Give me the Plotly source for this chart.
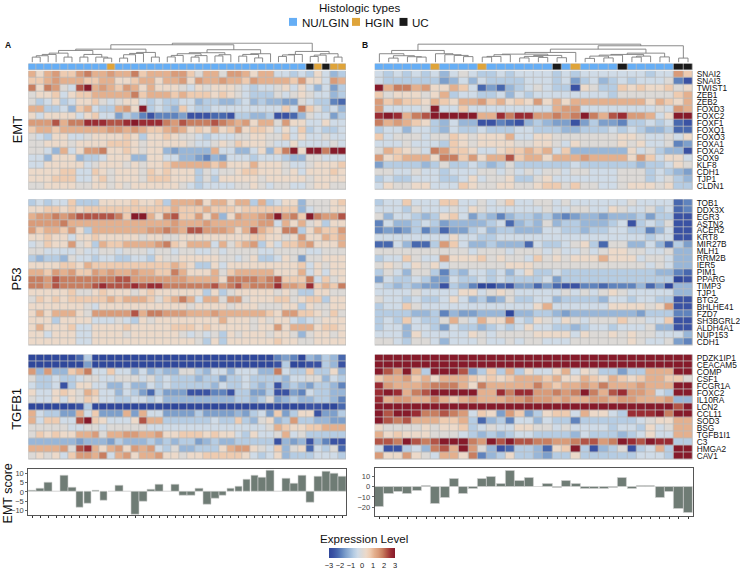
import numpy as np
import plotly.graph_objects as go

W, H = 740, 569
FONT = "Liberation Sans"
LEVEL = 3 / 8  # one step of the colour ramp, in expression units

genes_emt = ["SNAI2","SNAI3","TWIST1","ZEB1","ZEB2","FOXD3","FOXC2","FOXF1","FOXQ1","FOXO3","FOXA1","FOXA2","SOX9","KLF8","CDH1","TJP1","CLDN1"]
genes_p53 = ["TOB1","DDX3X","EGR3","ASTN2","ACER2","KRT8","MIR27B","MLH1","RRM2B","IER5","PIM1","PPARG","TIMP3","TJP1","BTG2","BHLHE41","FZD7","SH3BGRL2","ALDH4A1","NUP153","CDH1"]
genes_tgf = ["PDZK1IP1","CEACAM5","COMP","CSF1","FCGR1A","FOXC2","IL10RA","LCN2","CCL11","SOD3","BSG","TGFB1I1","C3","HMGA2","CAV1"]

types_a = [0]*10 + [1] + [0]*24 + [2,1,2,1,1]
types_b = [0]*6 + [1] + [0]*4 + [1] + [0]*7 + [2,0,1] + [0]*4 + [2] + [0]*5 + [2,2]

score_a = [0.7,2,4.8,0.2,9,2.2,-8.3,-6,0.7,-4.5,0,3.3,0.2,-12,-5,1.3,3.8,0.2,4,-2,-2,1.7,-6.8,-3.5,-1.7,1.6,2.7,6.5,9,8,11.5,0.1,7.3,4.5,8.8,-5.8,8.2,11,9.7,8.3]
score_b = [-19.5,-7,-4.5,-6.5,-3.5,1.2,-17,-10.5,8.3,-7.3,-1.8,8,9.5,3.5,16.3,6.2,9,0.4,3.2,-0.6,6,2.7,-1.8,-1.8,-1.8,-0.6,9.3,-1.8,0.8,1.3,-10.5,-4.8,-22,-26]

emt_a = [
[3,1,3,4,2,2,4,5,3,3,4,3,3,5,2,3,3,3,4,4,2,0,3,3,0,4,4,3,1,3,3,-1,-1,-2,-1,-2,1,-1,-3,-2],
[2,2,3,4,3,3,3,2,2,3,3,1,1,2,3,3,1,3,3,4,1,4,3,3,4,3,3,2,4,3,3,3,3,2,4,1,1,-1,4,3],
[5,1,5,4,0,-1,6,8,3,4,3,2,4,3,1,3,1,1,1,0,-1,1,0,1,1,1,0,-1,-2,-1,-1,0,1,-1,1,-1,-3,-1,-4,-2],
[0,1,1,2,-1,1,2,2,3,3,3,3,3,5,2,3,3,3,2,3,2,2,2,1,2,1,0,-1,-2,-2,-2,0,-1,0,1,0,-1,-1,-3,-2],
[0,-2,-1,1,-2,-1,1,1,2,0,-1,0,1,1,-1,-2,-1,-2,-2,-1,-1,-3,-2,-2,-3,-3,-2,-1,-3,-2,-3,-3,-4,-4,0,-1,-2,-2,-5,-6],
[3,3,-2,-2,-1,-3,2,3,-1,-2,-2,3,4,1,8,-2,-1,-2,-3,2,-1,-2,-2,-1,-1,-1,-1,-1,-1,-1,-1,-1,2,-1,5,2,0,-2,-1,-3],
[1,-1,1,1,1,1,-1,1,2,-1,-1,-4,-2,-3,-5,-7,-5,-5,-5,-4,-7,-7,-7,-6,-6,-7,-2,-2,-3,-3,-2,-7,-7,-6,-3,0,-1,-1,-4,-2],
[4,4,4,6,3,5,5,7,7,7,6,6,7,8,7,7,7,5,4,6,5,5,5,6,5,4,3,4,1,3,3,0,4,1,1,-1,-1,1,-1,-1],
[2,3,3,2,3,3,3,3,3,3,4,4,3,4,3,2,2,3,4,3,1,2,1,3,1,2,4,1,2,2,1,-1,1,-1,2,-2,-1,-2,-2,-1],
[0,-1,-2,1,1,-1,-1,0,1,1,1,1,2,1,-2,1,1,2,1,0,0,-1,-2,-1,-1,-1,0,0,1,1,0,0,2,-1,1,-1,-1,0,-1,-1],
[0,0,1,1,1,0,1,1,1,1,2,2,2,1,0,1,1,1,1,1,0,-1,-1,0,1,0,2,1,1,1,0,-1,-1,1,-1,-1,-1,-1,0,-1],
[0,0,-1,-3,3,-1,1,4,4,5,1,1,2,1,0,1,1,-3,-4,-3,-3,-3,-3,3,-1,-1,-3,-3,-1,1,-3,2,5,8,1,8,8,5,8,8],
[-1,-1,-3,1,1,1,-3,-2,-2,-1,1,1,1,-3,-3,1,1,-1,-1,-3,-3,-4,-5,-3,-4,-1,-1,-1,-2,-1,-1,-1,-2,-3,-3,0,0,-1,-1,-1],
[-1,-1,1,1,1,1,1,-1,0,1,1,1,0,1,0,1,1,2,3,3,3,3,3,2,3,1,1,1,3,1,1,1,0,-1,-1,0,1,1,1,2],
[1,1,1,1,2,2,-1,-1,2,1,0,1,1,1,0,2,1,2,1,1,1,-2,0,-1,0,0,1,2,2,1,1,1,0,1,-1,1,1,1,2,1],
[1,1,1,2,2,2,-1,-1,1,2,0,1,1,1,0,2,2,2,1,1,1,-2,0,-2,1,1,1,1,1,0,1,1,1,1,1,0,1,1,1,1],
[0,0,1,1,1,1,0,0,1,1,0,1,0,1,1,1,1,1,1,0,-1,-2,-1,-1,-1,-1,0,0,1,0,-1,0,0,-1,-1,0,1,1,0,0],
]

p53_a = [
[-2,-1,-2,-1,-1,2,-2,-2,-2,1,1,1,1,2,1,1,2,-2,3,3,3,4,1,3,3,1,3,3,-2,3,-2,-1,1,1,-3,0,0,0,1,2],
[1,1,2,2,1,2,1,2,2,2,2,2,2,2,2,2,2,2,3,2,2,2,3,2,2,2,1,2,2,2,2,2,2,2,-3,-1,0,0,1,1],
[3,4,4,5,4,5,6,6,6,6,6,5,2,8,8,3,1,5,6,2,2,4,1,4,-3,1,4,3,3,4,5,8,4,5,2,8,5,4,4,6],
[4,4,4,4,5,3,3,3,3,3,3,3,3,3,3,3,3,3,4,3,3,3,4,3,3,3,3,3,3,4,4,-1,3,1,3,0,1,-2,1,1],
[4,2,3,3,2,4,1,-2,3,3,3,3,3,3,3,4,4,5,4,3,6,6,4,4,4,3,1,3,6,3,2,1,5,5,-2,1,3,2,2,4],
[1,1,2,1,1,-1,1,1,2,1,1,1,1,1,0,1,1,0,0,1,1,1,1,1,1,1,1,1,2,2,1,1,0,1,4,1,1,3,2,3],
[-1,0,2,1,1,4,0,1,-2,3,2,2,3,3,3,3,4,5,2,1,3,3,3,-1,3,0,2,3,4,-2,1,-1,2,2,3,4,1,1,1,3],
[0,0,-1,-1,-1,-1,0,-1,-1,0,0,-1,0,0,0,-1,0,0,-1,0,0,-1,-1,0,-1,0,0,0,0,-1,-1,0,0,0,0,-1,-1,0,0,0],
[-2,-3,-2,-2,-3,0,-1,-1,-2,-1,-1,-2,-2,-1,-1,-2,1,0,0,1,1,1,1,1,0,0,-1,0,1,-2,-2,-1,1,0,-4,0,0,1,1,1],
[1,1,1,1,2,2,1,3,2,2,2,2,2,2,2,2,2,2,3,2,1,-2,-2,1,-1,1,1,1,1,1,1,1,1,1,2,-1,1,0,1,1],
[3,3,2,4,3,4,2,2,4,3,4,3,3,4,3,3,2,2,5,3,1,1,1,3,0,2,3,3,3,3,3,1,1,1,3,-1,1,-1,1,1],
[5,5,4,6,5,5,5,5,5,5,5,6,6,4,4,4,4,4,4,4,3,3,3,3,1,5,5,5,5,4,5,6,2,2,2,5,-1,2,0,1],
[5,5,4,6,5,5,5,5,6,7,6,6,6,7,6,7,7,5,5,5,5,5,5,6,4,5,6,4,5,5,5,7,4,4,3,7,2,3,2,5],
[1,1,1,1,1,2,0,0,1,2,1,1,1,0,1,2,1,1,1,1,1,1,-2,1,-2,0,1,1,1,1,1,0,1,0,-2,-2,1,1,0,0],
[0,2,1,2,1,2,2,2,2,2,3,2,3,3,3,2,0,2,3,5,3,-1,3,3,0,4,4,0,1,1,1,2,2,0,1,2,2,-2,1,1],
[1,1,1,1,1,1,1,0,-1,1,1,1,1,1,1,1,1,1,1,1,0,1,1,1,1,0,1,1,1,0,0,0,1,1,-2,1,0,0,1,1],
[1,3,1,3,3,3,1,0,4,4,4,4,4,6,3,5,5,4,4,4,3,3,3,4,3,3,3,3,3,3,2,1,4,4,2,2,1,0,2,0],
[1,1,1,-2,1,1,1,1,-1,-1,-1,0,-1,-2,1,0,1,1,1,1,1,1,1,1,3,1,1,1,0,1,0,1,1,-1,-2,-1,0,1,1,1],
[1,3,1,1,1,2,-1,-1,1,1,1,1,2,1,1,1,1,1,2,2,2,1,2,1,1,1,1,1,0,1,1,4,1,3,3,3,1,2,2,1],
[1,1,-1,1,1,1,-1,-1,1,1,1,1,0,1,1,1,1,1,1,0,-1,0,-1,0,-2,1,0,1,1,1,0,1,1,0,-3,0,1,1,0,1],
[1,1,1,1,1,1,-1,-1,1,1,1,1,1,1,1,1,1,1,1,1,1,0,-2,1,-2,1,1,1,1,1,1,2,1,1,0,0,1,1,1,1],
]

tgf_a = [
[-8,-8,-8,-8,-8,-8,-6,-2,-8,-8,-8,-8,-8,-8,-8,-8,-8,-8,-8,-8,-8,-8,-8,-8,-8,-8,-8,-8,-8,-8,-8,-5,-4,-5,-8,-3,-4,-2,-3,-6],
[-8,-8,-8,-8,-8,-8,-8,-4,-8,-8,-8,-8,-8,-8,-8,-8,-8,-8,-8,-8,-8,-8,-8,-8,-8,-8,-8,-8,-8,-8,-8,-7,-2,-8,-8,-7,-7,-2,-3,-7],
[4,-3,4,-3,-3,2,3,5,-1,-1,2,-1,-1,-3,-1,-3,-2,-3,-3,0,0,-2,-3,-1,-1,-3,-1,-1,-1,-3,-3,5,-1,-2,-2,2,-2,-2,1,-3],
[0,-2,-2,-1,-2,-2,-1,0,0,-1,-1,0,0,0,-1,0,-2,-1,-2,-2,-2,-3,-2,-2,-4,-2,-2,-1,-2,-2,-2,-2,-3,-1,-1,0,0,-3,-1,-2],
[-1,-2,-2,-1,-7,-2,1,1,-1,-1,-3,-3,-1,-3,-3,-1,-2,-1,-2,-2,-2,-2,-2,-3,-1,-2,-2,-1,-2,-3,-2,-7,-3,-2,-3,-4,-2,-2,-3,-5],
[1,-1,-1,1,2,1,0,3,2,-1,-1,-3,-1,-2,-4,-6,-2,-4,-4,-4,-7,-7,-7,-5,-5,-7,-2,-2,-4,-4,-2,-7,-7,-4,-5,-1,-2,-2,-3,-3],
[0,-1,-1,1,-1,1,0,2,1,-1,-1,-2,-2,-1,-1,-2,-1,-3,-3,-3,-3,-3,-3,-3,-3,-3,-2,-2,-3,-2,0,-4,-3,-2,-3,-3,-2,-2,-3,-5],
[-8,-8,-8,-8,-8,-8,-7,-2,-8,-8,-8,-8,-8,-8,-8,-8,-8,-8,-8,-8,-8,-8,-8,-8,-8,-8,-8,-8,-8,-8,-8,-8,-8,-8,-8,-7,-7,-8,-8,-6],
[3,-1,-2,-2,-4,-4,3,-1,2,-4,-4,-4,3,-4,3,-1,-1,-4,-4,-4,-4,-2,-4,-4,-4,-4,-3,-4,-2,-1,-4,2,-4,-2,1,1,-7,-4,-4,-2],
[3,-1,2,2,-1,-1,6,8,2,1,-1,-1,-1,1,6,3,3,-2,-2,-2,-2,-2,-2,-1,-2,-2,2,-2,-3,0,1,-3,-2,4,-2,-2,-3,-3,-4,-4],
[0,0,0,0,0,-1,-1,0,0,-1,0,0,0,0,0,-1,-1,-1,-1,-1,-1,-1,-1,-1,-1,-1,-1,-1,-1,-1,0,3,2,1,1,2,2,3,3,3],
[0,2,1,2,1,1,3,3,4,0,3,3,4,4,3,3,4,1,1,2,2,2,1,2,1,1,-1,-2,1,-1,-1,0,3,-1,0,-2,-2,-2,-2,-2],
[-3,-3,-3,-3,-3,-3,-4,-3,-3,-3,-4,-2,-3,-3,-3,-2,-3,-2,-3,-2,-2,-4,-3,-2,-3,-3,-2,-2,-2,-2,-2,-7,-3,-4,-3,-7,-3,-5,-7,-7],
[3,3,3,3,4,0,6,7,3,1,3,4,1,4,3,4,-1,-2,0,-3,-3,-2,-2,-2,1,3,4,4,1,0,-1,2,-3,0,1,-6,-1,-2,0,-6],
[0,1,0,1,-1,2,4,4,3,5,-1,3,4,1,3,3,4,1,1,0,1,1,2,2,2,2,2,1,-1,-2,-1,1,-3,-2,-2,-2,-1,-1,-1,-2],
]

emt_b = [
[-1,-2,-1,-2,-1,-2,-1,-3,-1,0,-1,-2,-2,-1,-2,-1,-1,-1,-1,-2,-1,-2,-1,-1,-1,-1,-1,-1,-1,-2,-1,-1,4,2],
[-1,-2,-2,-2,-2,-2,-2,-4,-3,-1,-3,-1,-2,-2,-2,-2,-1,-1,-1,-2,-1,-4,-2,-1,-3,-2,-1,-2,-1,-1,-1,0,-5,-7],
[8,3,5,5,3,4,1,1,3,2,-1,-6,-4,-6,-3,-2,-1,0,-1,-2,-2,-7,1,0,-2,-2,2,1,2,1,1,2,0,1],
[2,0,1,1,1,0,1,3,-2,-1,-1,-2,-2,-1,-3,-1,-2,-1,-1,-1,-1,-1,-1,-1,-1,-2,0,0,0,0,0,0,2,3],
[4,2,3,2,2,1,3,2,1,3,3,4,2,3,1,2,1,4,1,3,1,3,3,3,3,3,3,3,3,1,3,2,1,3],
[4,-1,-1,-1,-1,0,8,-1,-1,2,-1,-1,-1,-1,-1,-1,-1,-1,-1,3,4,4,-1,-1,-1,-1,-1,-1,-1,-1,0,-1,4,3],
[7,8,7,3,5,6,8,8,8,8,8,3,3,7,5,7,7,4,4,5,4,5,8,5,3,6,7,4,4,3,-1,1,8,8],
[5,3,4,3,2,1,-2,-3,-1,-3,-3,-7,-7,-5,-6,-7,-3,-2,-3,-4,-4,-7,-4,-2,-4,-4,-5,-2,-2,-1,-2,-1,-6,-7],
[-2,-1,-1,-3,-1,-1,-2,-3,-1,-2,-2,-1,-2,-2,-2,-1,-1,-2,-2,-2,-3,-3,-2,-2,-2,-1,-2,-1,-2,-3,-3,-2,-6,-6],
[2,-1,0,0,0,-1,0,0,2,1,0,1,1,1,3,-1,-1,1,1,0,0,0,0,0,0,0,1,1,0,-1,-1,0,-1,1],
[-1,-1,-1,0,-1,-1,-1,-2,2,1,0,1,1,1,1,0,0,1,1,0,-1,1,0,0,0,0,1,0,1,-1,-1,0,-5,-4],
[0,3,2,1,0,-1,5,4,2,2,1,-1,-1,1,2,2,3,2,3,-1,2,-3,-3,-3,-3,-3,-3,1,-1,0,-2,-3,-3,-7],
[4,1,2,3,3,3,1,5,5,2,4,1,3,3,6,2,3,3,1,3,3,3,4,3,3,3,3,1,4,2,-1,1,1,-1],
[-4,-2,-2,-2,-2,-3,-2,0,-2,-2,-1,-2,-3,-2,0,-2,-2,-2,-2,-2,-2,-1,-2,-2,-2,-2,-2,-2,-3,-2,-2,-1,1,0],
[0,0,-1,-1,0,-1,-1,-2,-1,-1,-1,0,0,-1,0,-1,0,-1,0,0,-1,0,0,-1,-1,-1,0,0,0,-2,-1,-2,-3,-4],
[-2,-1,-2,-2,-1,-1,-1,-2,-2,-1,1,-1,0,0,1,-2,-2,0,1,-1,-1,-1,-1,-1,-1,-1,0,0,0,-2,-1,0,-2,-3],
[-1,1,0,0,1,1,-1,-1,-1,2,1,0,0,1,1,0,0,1,2,2,0,2,0,0,-1,-1,0,1,1,1,0,1,-2,-2],
]

p53_b = [
[-2,-1,-1,2,-1,-1,-1,2,2,-1,-1,0,-1,0,2,-1,-1,0,0,-1,0,-1,-1,-1,-1,-1,-1,0,-1,-1,-1,-1,-6,-5],
[-1,-1,-1,-2,0,-1,-1,-1,0,-1,1,0,-1,-1,-1,-1,-1,-1,0,-1,-1,0,0,-1,-1,1,0,-1,-1,0,-2,-1,-6,-5],
[0,-3,-1,-1,-2,-3,-2,1,2,-1,-4,-2,-3,-5,-3,-2,-2,-3,-2,-4,-5,-4,-3,-3,-4,-3,-3,-3,-2,-4,-2,-2,-7,-7],
[-5,-1,-3,-3,-2,-1,-2,-4,-3,-3,-3,-3,-2,-1,-6,-3,-2,-3,0,-3,-2,-2,-3,-3,-3,-2,-1,-7,-2,-1,-2,0,-7,-7],
[-5,-4,-5,-4,-2,-5,-3,-6,-4,-4,-2,-1,-3,-2,-2,-3,-3,-3,-1,-1,-2,-2,-3,-2,-2,-1,-1,-2,-2,-5,-3,-1,-7,-7],
[-1,-1,-1,-1,-1,-1,-1,-1,1,-1,-1,-2,-2,-1,-1,-1,-1,-1,-1,-1,-1,-1,-1,-1,-1,-1,-1,-1,-1,-2,-1,-1,-7,-7],
[-6,-6,-1,-3,-6,-6,-2,4,2,-1,-3,-3,-2,-3,-3,-3,-6,-1,-2,-2,-1,0,1,-2,-6,0,0,-3,-3,-1,-3,-6,-2,-4],
[0,0,0,0,0,0,0,0,0,0,-1,0,0,0,-1,0,0,0,-1,0,-1,-1,0,-1,0,1,1,0,0,-1,-1,0,-3,-3],
[-2,-1,-1,2,0,-1,-1,4,1,1,1,2,0,1,0,0,-1,2,0,1,0,1,1,1,3,1,1,1,-1,0,0,-1,-3,-3],
[0,1,0,-1,1,0,1,-1,0,0,0,0,0,0,1,1,1,0,0,0,0,0,0,0,0,0,0,0,0,-1,0,-1,-3,-3],
[-2,0,-1,-3,0,0,-2,-5,-2,-3,-1,-1,-2,-1,-3,-1,1,-2,-2,-1,-2,-2,-2,-2,-2,-2,-2,-2,-2,-2,-3,-3,-5,-6],
[-4,-1,-2,-2,-1,-2,-4,-4,-1,-2,-2,-1,-2,-1,-2,-2,-2,-2,-1,-4,-2,-2,-2,-2,-2,-2,-2,-2,-2,-2,-2,-2,-8,-7],
[-1,-2,-3,-2,-3,-4,-4,-7,-2,-3,-5,-8,-8,-6,-7,-4,-4,-6,-4,-6,-7,-7,-5,-5,-6,-5,-5,-5,-3,-6,-4,-8,-3,-3],
[-1,-1,-1,-1,0,-1,-1,-1,-1,1,1,-1,0,1,0,-1,-1,-1,-1,-1,0,-1,0,-1,0,1,0,-1,-1,-1,-1,-1,-3,-3],
[0,-1,-1,-2,-1,-2,-2,-1,1,-1,-3,-2,-4,-3,0,-2,-2,-1,-1,-3,-2,-2,-2,-2,-3,-1,-1,-2,-1,-1,-2,-2,-7,-7],
[-2,-1,-1,2,0,-1,-1,-1,-1,-1,-1,-1,-1,-1,-1,-1,-1,1,3,-1,-1,-1,-1,-1,-1,1,1,1,1,0,1,4,-7,-7],
[-2,-2,-2,-2,-3,-3,-2,-5,-3,-4,-4,-3,-3,-3,-8,-3,-3,-2,-2,-3,-4,-3,-3,-3,-3,-3,-3,-3,-4,-2,-2,-2,-5,-5],
[-2,-1,-2,2,-1,-2,-2,0,3,0,-1,3,1,1,4,-1,-2,1,0,-1,1,0,-1,0,0,0,2,0,0,-1,-1,2,-7,-7],
[-2,-1,-1,-3,-1,-1,-2,-4,-1,-2,-2,-3,-2,-1,-2,-1,1,-1,-1,-2,-2,-3,-2,-1,-1,-2,-1,-1,-1,0,-3,-3,-7,-7],
[-1,-1,-1,-3,1,-1,-1,-1,-1,-1,1,0,-1,0,0,0,0,1,1,1,1,-1,1,0,0,1,0,1,0,0,-1,-1,-1,-3],
[0,0,-1,-2,0,0,-1,-3,-1,-1,-1,0,-1,-1,0,-1,0,0,-1,-1,-1,0,0,0,0,0,0,1,0,-1,-1,0,-4,-5],
]

tgf_b = [
[8,8,8,8,8,8,8,8,8,8,8,8,8,8,8,8,8,8,8,8,8,8,8,8,8,8,8,8,8,8,8,8,8,8],
[8,8,8,8,8,8,8,8,8,8,8,8,8,8,8,8,8,8,8,8,8,8,8,8,8,8,8,8,8,8,8,8,8,8],
[8,6,4,8,3,-2,8,8,8,6,-4,-2,2,-2,3,-2,1,-1,-1,1,3,-1,1,0,-2,-2,-4,-2,-2,3,3,3,8,8],
[2,3,3,4,2,3,1,3,3,3,2,1,2,1,2,3,3,3,2,3,1,1,3,2,1,3,2,1,2,3,3,2,2,0],
[7,4,3,3,3,4,5,5,5,3,1,5,3,3,3,3,3,5,3,2,3,3,4,3,5,3,3,3,4,3,3,3,8,8],
[7,8,7,3,5,6,8,8,8,8,8,3,3,7,5,7,7,4,4,5,4,5,8,5,3,6,7,4,4,3,-1,-2,8,8],
[7,3,4,4,3,3,5,3,2,3,4,3,3,3,4,4,5,4,4,3,4,3,3,4,4,3,4,4,3,3,3,4,-3,-3],
[8,8,8,8,8,8,8,8,8,8,8,8,8,8,8,8,8,8,8,8,8,8,8,8,8,8,8,8,8,8,8,8,6,8],
[8,6,8,8,7,5,5,6,5,4,-1,2,1,-4,4,2,-4,-2,1,2,2,-1,3,1,1,-1,-2,7,7,7,8,5,8,8],
[8,6,5,6,3,3,3,2,2,3,-2,-6,-3,-2,-5,-1,-1,-3,-1,-2,-2,-5,-2,-2,-2,-2,-2,-2,-1,0,1,1,3,3],
[1,0,0,0,0,1,0,1,1,2,-2,-1,0,-1,-1,1,1,0,0,-1,0,-1,-1,-1,-1,-2,-1,-1,-2,1,-1,0,3,3],
[3,1,2,1,1,1,0,0,0,-1,-2,-3,-2,-3,-2,-1,-1,-2,-2,-2,-2,-3,-1,-2,-2,-2,-3,-2,-1,1,-1,-1,3,3],
[6,6,5,8,6,5,6,8,8,8,5,4,8,6,8,6,6,5,5,4,4,5,6,6,4,5,8,7,6,8,7,7,-2,-2],
[-1,-7,-7,-2,-1,-3,5,6,3,8,4,0,-3,-7,-6,-2,-2,-3,-6,1,2,8,-2,-7,-3,-2,0,-7,-2,-1,3,-2,8,8],
[4,1,1,4,1,0,-1,3,3,1,5,-5,-3,-2,1,-2,-2,-3,-4,-2,-2,1,-2,-2,-2,-2,-2,-2,-1,-1,-1,-2,8,8],
]

# dendrograms: (merge height, left child, right child); an integer is a sample
N = lambda h, a, b: (h, a, b)
tree_a = N(19.3,
    N(17.7,
        N(13.3,
            N(12,
                N(9.3, N(8, N(6.7, N(5.3, 0, 1), 2), 3), N(5.3, 4, 5)),
                N(8, N(5.3, 6, 7), N(5.3, 8, N(4.3, 9, 10)))),
            N(10, N(9, N(7.7, N(4.3, 11, 12), 13), 14), N(5.3, 15, 16))),
        N(12.7,
            N(9.7,
                N(8.7, N(7, N(5.5, 17, 18), 19), N(6.8, N(5.3, 20, 21), 22)),
                N(7.7, N(6.5, 23, 24), 25)),
            N(8.7, N(8, N(6.3, 26, 27), N(4.5, 28, 29)), 30))),
    N(11,
        N(8, N(7.5, N(6, 31, 32), 33), 34),
        N(8.7, N(7.3, N(6, 35, 36), 37), N(5.3, 38, 39))))
tree_b = N(18.3,
    N(12,
        N(8.7, 0, N(6.7, N(4.3, 1, 2), N(5.7, 3, N(5.3, 4, 5)))),
        N(8.7, 6, N(7.7, 7, N(7, 8, N(5.8, 9, 10))))),
    N(16.7,
        N(13.3,
            N(10,
                N(8.3,
                    N(7.7, N(6, N(5.3, 11, 12), 13), 14),
                    N(7, N(6, N(4.5, 15, 16), N(5, 17, 18)), N(4.7, 19, 20))),
                21),
            N(9.3,
                N(8,
                    N(7.3, N(6.3, N(4, 22, 23), N(4.5, 24, 25)), 26),
                    N(6.3, N(5.3, 27, 28), 29)),
                N(5.5, 30, 31))),
        N(4.3, 32, 33)))


def tree_lines(tree):
    xs, ys = [], []
    def walk(node):
        if isinstance(node, int):
            return float(node), 0.0
        h, a, b = node
        xa, ha = walk(a)
        xb, hb = walk(b)
        xs.extend([xa, xa, xb, xb, None])
        ys.extend([ha, h, h, hb, None])
        return (xa + xb) / 2, h
    walk(tree)
    return xs, ys


ramp_steps = [-8,-7,-6,-5,-4,-3,-2,-1,0,1,2,3,4,5,6,7,8]
ramp_cols = ["#2f479b","#3a52a3","#4868ae","#5f83bd","#7d9fcb","#98b6d8","#b5cce3","#cfdbe7","#dcd9d6",
             "#ecd9c9","#eecbb0","#e4b08e","#d99b79","#c87e60","#b25446","#9a2c33","#861a2a"]
colorscale = [[(s + 8) / 16, c] for s, c in zip(ramp_steps, ramp_cols)]
type_cols = ["#66aef5", "#dfa43a", "#1a1a1a"]
type_scale = [[0, type_cols[0]], [0.33, type_cols[0]], [0.33, type_cols[1]], [0.66, type_cols[1]],
              [0.66, type_cols[2]], [1, type_cols[2]]]
CELL_LINE = "#bababa"
DENDRO = "#7d7d7d"

fx = lambda p: p / W
fy = lambda p: 1 - p / H

fig = go.Figure()
layout = {}
shapes = []
ax = [0]


def new_axes(xdom, ydom, xopts, yopts):
    ax[0] += 1
    k = ax[0]
    sx = "" if k == 1 else str(k)
    layout[f"xaxis{sx}"] = dict(domain=[fx(xdom[0]), fx(xdom[1])], anchor=f"y{sx}", **xopts)
    layout[f"yaxis{sx}"] = dict(domain=[fy(ydom[1]), fy(ydom[0])], anchor=f"x{sx}", **yopts)
    return f"x{sx}", f"y{sx}"


BLANK = dict(showgrid=False, zeroline=False, showticklabels=False, ticks="", showline=False)


def add_heat(rows, xdom, ydom, labels=None):
    n, m = len(rows[0]), len(rows)
    for r in rows:
        if len(r) != n:
            raise ValueError(f"row length {len(r)} != {n}: {r}")
    yo = dict(BLANK, range=[m - 0.5, -0.5])
    if labels:
        yo.update(showticklabels=True, side="right", tickmode="array", tickvals=list(range(m)),
                  ticktext=labels, tickfont=dict(size=8.3, color="#111", family=FONT), ticklabelstandoff=3)
    xa, ya = new_axes(xdom, ydom, dict(BLANK, range=[-0.5, n - 0.5]), yo)
    shapes.append(dict(type="rect", xref=f"{xa} domain", yref=f"{ya} domain", x0=0, x1=1, y0=0, y1=1,
                       layer="below", fillcolor=CELL_LINE, line=dict(width=0)))
    fig.add_trace(go.Heatmap(z=np.array(rows) * LEVEL, xaxis=xa, yaxis=ya, coloraxis="coloraxis",
                             xgap=0.8, ygap=0.8, hoverinfo="skip"))


def add_types(types, xdom, ydom):
    n = len(types)
    xa, ya = new_axes(xdom, ydom, dict(BLANK, range=[-0.5, n - 0.5]), dict(BLANK, range=[0.5, -0.5]))
    shapes.append(dict(type="rect", xref=f"{xa} domain", yref=f"{ya} domain", x0=0, x1=1, y0=0, y1=1,
                       layer="below", fillcolor=CELL_LINE, line=dict(width=0)))
    fig.add_trace(go.Heatmap(z=[types], xaxis=xa, yaxis=ya, colorscale=type_scale, zmin=0, zmax=2,
                             showscale=False, xgap=0.8, ygap=0, hoverinfo="skip"))


def add_tree(tree, n, xdom, ydom):
    xa, ya = new_axes(xdom, ydom, dict(BLANK, range=[-0.5, n - 0.5]),
                      dict(BLANK, range=[0, ydom[1] - ydom[0]]))
    xs, ys = tree_lines(tree)
    fig.add_trace(go.Scatter(x=xs, y=ys, xaxis=xa, yaxis=ya, mode="lines", hoverinfo="skip",
                             line=dict(color=DENDRO, width=0.9), showlegend=False))


def add_bars(vals, xdom, ydom, yrange, ticks):
    n = len(vals)
    xa, ya = new_axes(
        xdom, ydom,
        dict(range=[-0.5, n - 0.5], showgrid=False, zeroline=False, showticklabels=False, ticks="outside",
             ticklen=2, tickwidth=0.8, tickcolor="#333", tickmode="array", tickvals=list(range(n)),
             showline=True, linecolor="#555", linewidth=1, mirror=True),
        dict(range=yrange, showgrid=False, zeroline=False, tickmode="array", tickvals=ticks,
             ticks="outside", ticklen=2, tickwidth=0.7, tickcolor="#666",
             tickfont=dict(size=7.5, color="#444", family=FONT),
             showline=True, linecolor="#555", linewidth=1, mirror=True))
    fig.add_trace(go.Bar(x=list(range(n)), y=vals, xaxis=xa, yaxis=ya, width=0.97,
                         marker=dict(color="#6f7c75", line=dict(color="#d2d2d2", width=0.6)),
                         hoverinfo="skip", showlegend=False))


LX = (28.3, 346.0)
RX = (374.7, 692.7)
for xdom, tree, types, emt, p53, tgf, labs in [
    (LX, tree_a, types_a, emt_a, p53_a, tgf_a, False),
    (RX, tree_b, types_b, emt_b, p53_b, tgf_b, True),
]:
    n = len(types)
    add_tree(tree, n, xdom, (40.5, 60.7))
    add_types(types, xdom, (61.8, 68.3))
    add_heat(emt, xdom, (69.0, 188.8), genes_emt if labs else None)
    add_heat(p53, xdom, (198.3, 345.2), genes_p53 if labs else None)
    add_heat(tgf, xdom, (354.3, 460.0), genes_tgf if labs else None)
add_bars(score_a, LX, (469.0, 515.7), [-12.4, 12.6], [-10, -5, 0, 5, 10])
add_bars(score_b, RX, (468.3, 517.0), [-29.2, 18.9], [-20, -10, 0, 10])

notes = []


def note(text, px, py, size, angle=0, bold=False, anchor="center", color="#111"):
    notes.append(dict(text=f"<b>{text}</b>" if bold else text, x=fx(px), y=fy(py), xref="paper", yref="paper",
                      showarrow=False, textangle=angle, xanchor=anchor, yanchor="middle",
                      font=dict(size=size, family=FONT, color=color)))


note("Histologic types", 359, 5.5, 11.6)
legend_items = [("NU/LGIN", 0, 289, 300), ("HGIN", 1, 352, 363), ("UC", 2, 399.5, 410)]
for label, k, sx, tx in legend_items:
    shapes.append(dict(type="rect", xref="paper", yref="paper", x0=fx(sx), x1=fx(sx + 8), y0=fy(24), y1=fy(16),
                       fillcolor=type_cols[k], line=dict(width=0)))
    note(label, tx, 20.2, 11.6, anchor="left")
note("A", 7.5, 43.5, 8.5, bold=True)
note("B", 365, 43.5, 8.5, bold=True)
note("EMT", 17, 128, 13, angle=-90)
note("P53", 17, 279, 13, angle=-90)
note("TGFB1", 17, 409, 13, angle=-90)
note("EMT score", 8, 494, 12.5, angle=-90)
note("Expression Level", 363.5, 539.5, 11.6)

fig.update_layout(
    width=W, height=H, margin=dict(l=0, r=0, t=0, b=0, pad=0), autosize=False,
    paper_bgcolor="white", plot_bgcolor="white", showlegend=False, bargap=0,
    font=dict(family=FONT), shapes=shapes, annotations=notes,
    coloraxis=dict(
        colorscale=colorscale, cmin=-3, cmax=3,
        colorbar=dict(orientation="h", x=fx(362), xanchor="center", y=fy(549), yanchor="top",
                      len=66, lenmode="pixels", thickness=10, thicknessmode="pixels",
                      xpad=0, ypad=0, outlinewidth=0, ticks="", tickmode="array",
                      tickvals=[-3, -2, -1, 0, 1, 2, 3],
                      tickfont=dict(size=7.5, family=FONT, color="#222"))),
    **layout,
)

fig.write_html("out.html", config=dict(displayModeBar=False),
               post_script="document.body.style.margin='0';document.documentElement.style.overflow='hidden';")
